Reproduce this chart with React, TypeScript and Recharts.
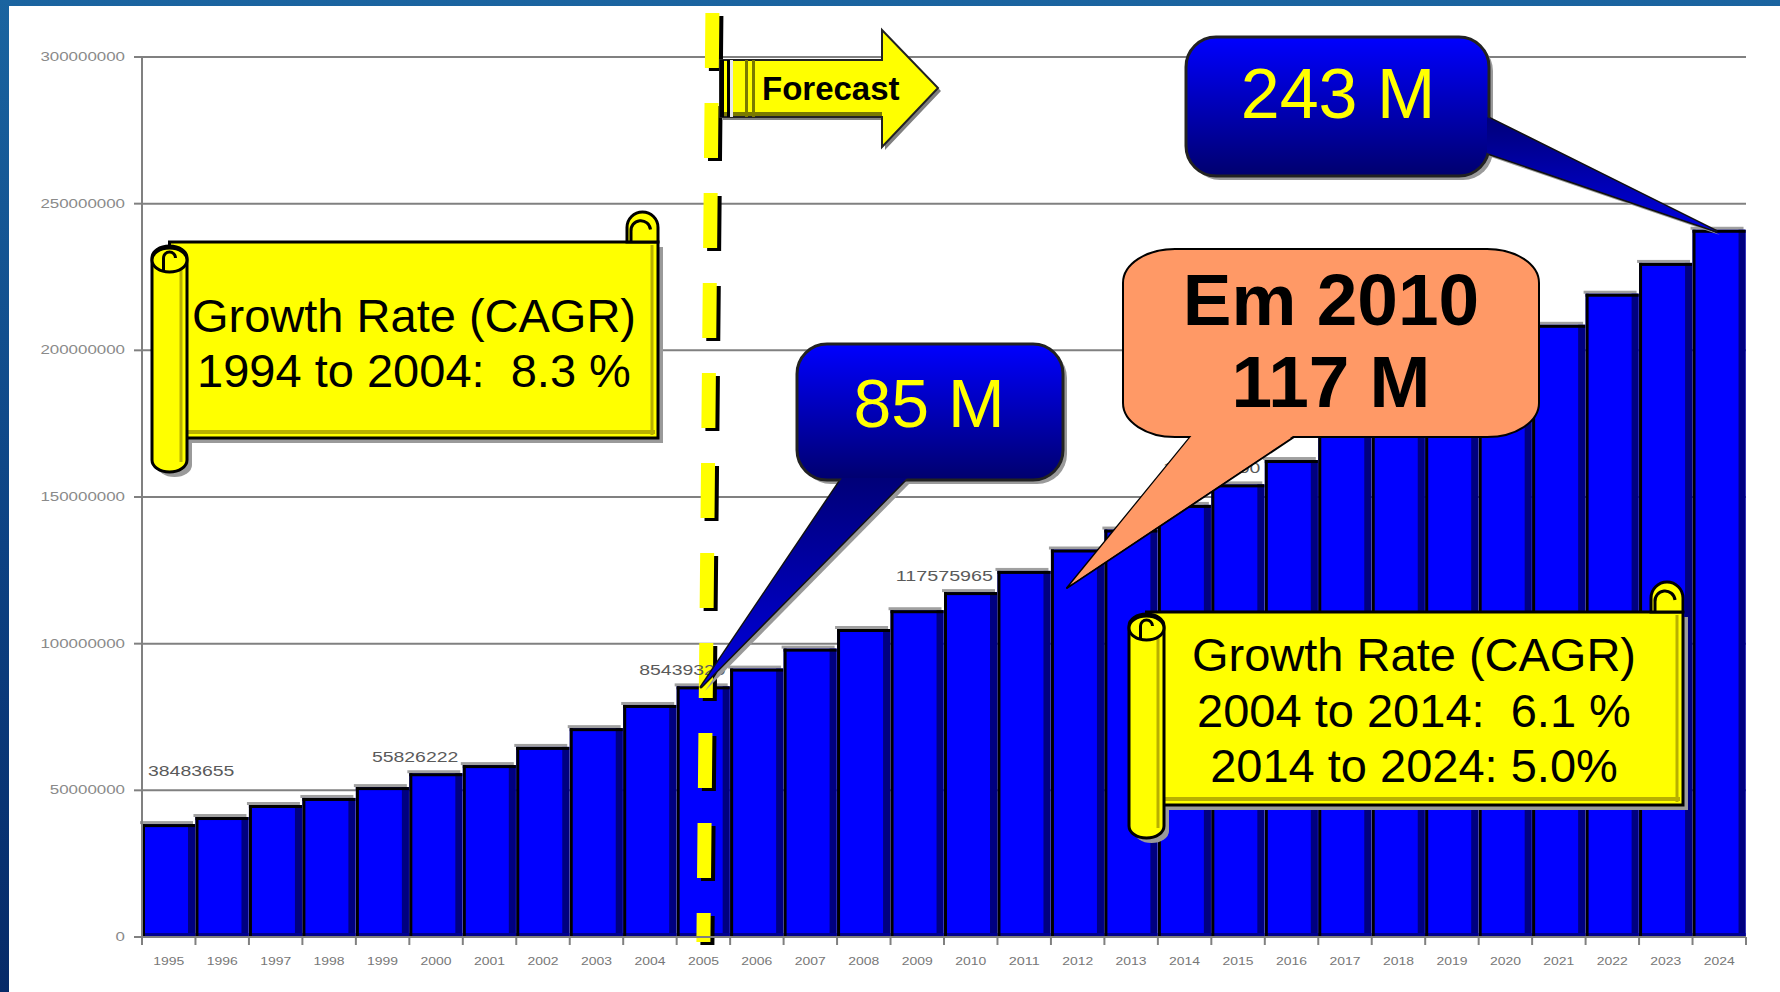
import { BarChart, Bar, XAxis, YAxis, CartesianGrid, ReferenceLine, LabelList } from "recharts"

// Years on the category axis
const years = [
    '1995', '1996', '1997', '1998', '1999', '2000', '2001', '2002', '2003', '2004',
    '2005', '2006', '2007', '2008', '2009', '2010', '2011', '2012', '2013', '2014',
    '2015', '2016', '2017', '2018', '2019', '2020', '2021', '2022', '2023', '2024'
]

// Values (labelled ones are exact)
const population = [
    38483655, 40900000, 45000000, 47400000, 51100000, 55826222, 58600000, 64800000, 71200000, 79100000,
    85439320, 91500000, 98300000, 105000000, 111400000, 117575965, 124800000, 132100000, 138900000, 147300000,
    154300000, 162600000, 171500000, 180300000, 189500000, 199000000, 208700000, 219300000, 229800000, 241100000
]

const yTicks = [0, 50000000, 100000000, 150000000, 200000000, 250000000, 300000000]
const labelledYears = ['1995', '2000', '2005', '2010', '2015']
const forecastStart = '2005'

const data = years.map((year, i) => ({ year, population: population[i] }))

const W = 1780
const H = 992
const PLOT_LEFT = 142
const PLOT_RIGHT = 1746
const PLOT_BOTTOM = 937
const BAND = (PLOT_RIGHT - PLOT_LEFT) / years.length
const FONT = '"Liberation Sans", Arial, sans-serif'

function BarShape(props: any) {
    const { x, y, width, height } = props
    if (!height || height <= 0) return null
    return (
        <g>
            <rect x={x - 2} y={y - 3} width={width} height={3} fill="#a0a0a0" />
            <rect x={x} y={y} width={width} height={height} fill="#0000ff" />
            <rect x={x + width - 7} y={y} width={7} height={height} fill="#000080" />
            <rect x={x} y={y + height - 4} width={width} height={4} fill="#000090" />
            <rect x={x} y={y} width={width} height={3} fill="#000" />
            <rect x={x} y={y} width={3} height={height} fill="#000" />
        </g>
    )
}

function ValueLabel(props: any) {
    const vb = props.viewBox || {}
    const x = props.x ?? vb.x
    const y = props.y ?? vb.y
    const width = props.width ?? vb.width
    const value = props.value
    const idx = props.index ?? population.indexOf(value)
    if (!labelledYears.includes(years[idx])) return null
    const first = idx === 0
    const s = String(value)
    return (
        <text
            x={first ? x + 6 : x + width - 4}
            y={first ? y - 48 : y - 11}
            textAnchor={first ? 'start' : 'end'}
            fontSize={15}
            fill="#5a5a5a"
            fontFamily={FONT}
            textLength={s.length * 10.8}
            lengthAdjust="spacingAndGlyphs"
        >
            {s}
        </text>
    )
}

function YTick(props: any) {
    const { x, y, payload } = props
    const s = String(payload.value)
    return (
        <text x={x - 7} y={y + 4} textAnchor="end" fontSize={12} fill="#8a8a8a" fontFamily={FONT}
            textLength={s.length * 9.4} lengthAdjust="spacingAndGlyphs">
            {s}
        </text>
    )
}

function XTick(props: any) {
    const { x, payload } = props
    const i = payload.index ?? props.index
    const left = x - BAND / 2
    return (
        <g>
            <line x1={left} x2={left} y1={PLOT_BOTTOM} y2={PLOT_BOTTOM + 8} stroke="#808080" strokeWidth={2} />
            {i === years.length - 1 && (
                <line x1={x + BAND / 2} x2={x + BAND / 2} y1={PLOT_BOTTOM} y2={PLOT_BOTTOM + 8} stroke="#808080" strokeWidth={2} />
            )}
            <text x={x} y={PLOT_BOTTOM + 28} textAnchor="middle" fontSize={11} fill="#777" fontFamily={FONT}
                textLength={31} lengthAdjust="spacingAndGlyphs">
                {payload.value}
            </text>
        </g>
    )
}

// the hand-drawn divider leans a little to the right at the top
const LEAN = 9

function ForecastDash(props: any) {
    const { x1, y1, x2, y2 } = props
    const top = y1 < y2 ? { x: x1 + LEAN, y: y1 } : { x: x2 + LEAN, y: y2 }
    const bottom = y1 < y2 ? { x: x2, y: y2 } : { x: x1, y: y1 }
    return (
        <g>
            <line x1={top.x + 4} y1={top.y + 3} x2={bottom.x + 4} y2={bottom.y + 3} stroke="#000" strokeWidth={14} strokeDasharray="55 35" />
            <line x1={top.x} y1={top.y} x2={bottom.x} y2={bottom.y} stroke="#ffff00" strokeWidth={14} strokeDasharray="55 35" />
        </g>
    )
}

// yellow scroll banner
function Scroll({ x, y, w, h, cylX, cylW, cylTop, cylBottom, curlX, curlTop, lines, baselines, cx }: any) {
    const right = x + w
    const curlR = (right - curlX) / 2
    const rx = cylW / 2
    return (
        <g>
            <rect x={cylX + rx + 5} y={y + 5} width={right - cylX - rx} height={h} fill="#9a9a9a" />
            <rect x={cylX + 5} y={cylTop + 5} width={cylW} height={cylBottom - cylTop} rx={rx} ry={12} fill="#9a9a9a" />
            <rect x={cylX + rx} y={y} width={right - cylX - rx} height={h} fill="#ffff00" stroke="#000" strokeWidth={3} />
            <line x1={cylX + rx} x2={right - 3} y1={y + h - 6} y2={y + h - 6} stroke="#b8b000" strokeWidth={4} />
            <line x1={right - 6} x2={right - 6} y1={y + 3} y2={y + h - 3} stroke="#b8b000" strokeWidth={3} />
            <path d={`M ${curlX} ${y} L ${curlX} ${curlTop + curlR} A ${curlR} ${curlR} 0 0 1 ${right} ${curlTop + curlR} L ${right} ${y} Z`}
                fill="#ffff00" stroke="#000" strokeWidth={3} />
            <path d={`M ${curlX + 4} ${y} L ${curlX + 4} ${curlTop + curlR + 4} A 7 7 0 0 1 ${curlX + curlR + 8} ${curlTop + curlR + 2}`}
                fill="none" stroke="#000" strokeWidth={3} />
            <rect x={cylX} y={cylTop} width={cylW} height={cylBottom - cylTop} rx={rx} ry={12} fill="#ffff00" stroke="#000" strokeWidth={3} />
            <line x1={cylX + cylW - 6} x2={cylX + cylW - 6} y1={cylTop + 24} y2={cylBottom - 10} stroke="#b8b000" strokeWidth={3} />
            <ellipse cx={cylX + rx} cy={cylTop + 14} rx={rx} ry={12} fill="#ffff00" stroke="#000" strokeWidth={3} />
            <path d={`M ${cylX + rx - 6} ${cylTop + 24} L ${cylX + rx - 6} ${cylTop + 12} A 6 6 0 0 1 ${cylX + rx + 6} ${cylTop + 12}`}
                fill="none" stroke="#000" strokeWidth={3} />
            {lines.map((t: string, i: number) => (
                <text key={i} x={cx} y={baselines[i]} textAnchor="middle" fontSize={47} fill="#000"
                    fontFamily={FONT} style={{ whiteSpace: 'pre' }}>
                    {t}
                </text>
            ))}
        </g>
    )
}

function BlueCallout({ x, y, w, h, tail, text, cx, baseline, size }: any) {
    const pts = tail.map((p: number[]) => p.join(',')).join(' ')
    const shadowPts = tail.map((p: number[]) => (p[0] + 4) + ',' + (p[1] + 4)).join(' ')
    return (
        <g>
            <polygon points={shadowPts} fill="#9a9a9a" />
            <rect x={x + 4} y={y + 4} width={w} height={h} rx={30} fill="#9a9a9a" />
            <polygon points={pts} fill="url(#tailGrad)" stroke="#111" strokeWidth={3} strokeLinejoin="round" />
            <rect x={x} y={y} width={w} height={h} rx={30} fill="url(#blueGrad)" stroke="#222" strokeWidth={3} />
            <polygon points={pts} fill="url(#tailGrad)" />
            <text x={cx} y={baseline} textAnchor="middle" fontSize={size} fill="#ffff00" fontFamily={FONT}>{text}</text>
        </g>
    )
}

function Annotations() {
    return (
        <svg width={W} height={H} style={{ position: 'absolute', left: 0, top: 0, pointerEvents: 'none' }}>
            <defs>
                <linearGradient id="blueGrad" x1="0" y1="0" x2="0" y2="1">
                    <stop offset="0" stopColor="#0000ff" />
                    <stop offset="1" stopColor="#00006e" />
                </linearGradient>
                <linearGradient id="tailGrad" x1="0" y1="0" x2="0" y2="1">
                    <stop offset="0" stopColor="#000078" />
                    <stop offset="1" stopColor="#0000e0" />
                </linearGradient>
            </defs>

            {/* Forecast arrow */}
            <polygon points="723,63 885,63 885,33 941,91 885,150 885,120 723,120" fill="#808080" />
            <polygon points="720,60 882,60 882,30 938,88 882,147 882,117 720,117" fill="#ffff00" stroke="#222" strokeWidth={2} />
            <line x1={722} x2={882} y1={114} y2={114} stroke="#7a7a00" strokeWidth={4} />
            <rect x={720} y={60} width={4} height={57} fill="#000" />
            <rect x={727} y={60} width={3} height={57} fill="#000" />
            <rect x={730} y={60} width={3} height={57} fill="#e8e8e8" />
            <rect x={745} y={60} width={3} height={57} fill="#7a7a00" />
            <rect x={752} y={60} width={3} height={57} fill="#7a7a00" />
            <text x={762} y={100} fontSize={33} fontWeight="bold" fill="#000" fontFamily={FONT}>Forecast</text>

            <Scroll x={170} y={242} w={488} h={196} cylX={152} cylW={35} cylTop={246} cylBottom={472}
                curlX={627} curlTop={212} cx={414} baselines={[332, 387]}
                lines={['Growth Rate (CAGR)', '1994 to 2004:  8.3 %']} />

            <Scroll x={1150} y={612} w={533} h={193} cylX={1129} cylW={35} cylTop={614} cylBottom={838}
                curlX={1651} curlTop={582} cx={1414} baselines={[671, 727, 782]}
                lines={['Growth Rate (CAGR)', '2004 to 2014:  6.1 %', '2014 to 2024: 5.0%']} />

            <BlueCallout x={797} y={344} w={266} h={136} tail={[[842, 478], [701, 687], [907, 478]]}
                text="85 M" cx={929} baseline={427} size={68} />

            <BlueCallout x={1186} y={37} w={303} h={139} tail={[[1487, 117], [1716, 231], [1487, 153]]}
                text="243 M" cx={1338} baseline={118} size={70} />

            {/* Em 2010 callout */}
            <polygon points="1192,435 1067,588 1297,435" fill="#ff9966" stroke="#000" strokeWidth={2} strokeLinejoin="round" />
            <rect x={1123} y={249} width={416} height={188} rx={52} ry={34} fill="#ff9966" stroke="#000" strokeWidth={2} />
            <polygon points="1193,434 1070,585 1296,434" fill="#ff9966" />
            <text x={1331} y={325} textAnchor="middle" fontSize={73} fontWeight="bold" fill="#000" fontFamily={FONT}>Em 2010</text>
            <text x={1331} y={407} textAnchor="middle" fontSize={73} fontWeight="bold" fill="#000" fontFamily={FONT}>117 M</text>
        </svg>
    )
}

export default function App() {
    return (
        <div style={{
            position: 'fixed', left: 0, top: 0, width: W, height: H, overflow: 'hidden',
            background: 'linear-gradient(180deg, #1a64a0 0%, #0d4283 55%, #062a68 100%)'
        }}>
            <div style={{ position: 'absolute', left: 9, top: 6, right: 0, bottom: 0, background: '#fff' }} />
            <div style={{ position: 'absolute', left: 0, top: 0 }}>
                <BarChart data={data} width={W} height={H} margin={{ top: 57, right: W - PLOT_RIGHT, bottom: 0, left: 0 }}
                    barCategoryGap={0} barGap={0}>
                    <CartesianGrid vertical={false} stroke="#808080" strokeWidth={2} />
                    <XAxis dataKey="year" interval={0} height={H - PLOT_BOTTOM} tickLine={false}
                        axisLine={{ stroke: '#808080', strokeWidth: 2 }} tick={<XTick />} />
                    <YAxis type="number" domain={[0, 300000000]} ticks={yTicks} interval={0} width={PLOT_LEFT}
                        tickSize={8} tickLine={{ stroke: '#808080', strokeWidth: 2 }}
                        axisLine={{ stroke: '#808080', strokeWidth: 2 }} tick={<YTick />} />
                    <Bar dataKey="population" shape={<BarShape />} isAnimationActive={false}>
                        <LabelList dataKey="population" content={<ValueLabel />} />
                    </Bar>
                    <ReferenceLine
                        segment={[{ x: forecastStart, y: 315000000 }, { x: forecastStart, y: -1700000 }]}
                        ifOverflow="visible"
                        stroke="#ffff00"
                        strokeWidth={14}
                        shape={<ForecastDash />}
                    />
                </BarChart>
            </div>
            <Annotations />
        </div>
    )
}
